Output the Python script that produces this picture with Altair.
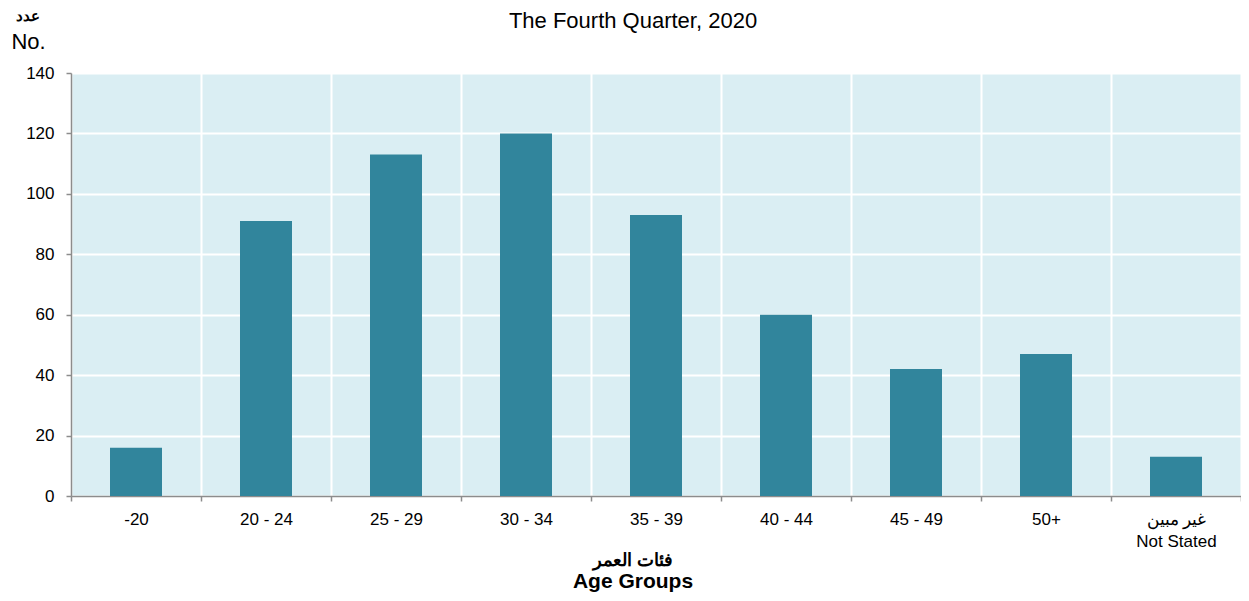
import altair as alt
import pandas as pd

# ---- data ----
categories = ["-20", "20 - 24", "25 - 29", "30 - 34", "35 - 39",
              "40 - 44", "45 - 49", "50+", "غير مبين|Not Stated"]
counts = [16, 91, 113, 120, 93, 60, 42, 47, 13]
y_ticks = [0, 20, 40, 60, 80, 100, 120, 140]

title_text = "The Fourth Quarter, 2020"
y_title_ar = "عدد"
y_title_en = "No."
x_title_ar = "فئات العمر"
x_title_en = "Age Groups"

FONT = "Liberation Sans"
BAR = "#31859C"
BG = "#DAEEF3"
AXIS = "#8C8C8C"

df = pd.DataFrame({"age": categories, "count": counts})

bars = alt.Chart(df).mark_bar(color=BAR, width={"band": 0.4}).encode(
    x=alt.X(
        "age:N",
        sort=categories,
        scale=alt.Scale(paddingInner=0, paddingOuter=0),
        axis=alt.Axis(
            title=None,
            labelAngle=0,
            tickBand="extent",
            grid=True,
            gridColor="white",
            gridWidth=2,
            domainColor=AXIS,
            domainWidth=1.5,
            tickColor=AXIS,
            tickWidth=1.5,
            tickSize=5,
            labelFont=FONT,
            labelFontSize=17,
            labelColor="black",
            labelPadding=10,
            labelLineHeight=22,
            labelExpr="split(datum.label, '|')",
        ),
    ),
    y=alt.Y(
        "count:Q",
        scale=alt.Scale(domain=[0, 140], nice=False),
        axis=alt.Axis(
            title=None,
            values=y_ticks,
            grid=True,
            gridColor="white",
            gridWidth=2,
            domainColor=AXIS,
            domainWidth=1.5,
            tickColor=AXIS,
            tickWidth=1.5,
            tickSize=5,
            labelFont=FONT,
            labelFontSize=17,
            labelColor="black",
            labelPadding=12,
        ),
    ),
)


def label(text, x, y, size, bold=False, align="center"):
    return alt.Chart(pd.DataFrame({"t": [text]})).mark_text(
        font=FONT,
        fontSize=size,
        fontWeight="bold" if bold else "normal",
        color="black",
        align=align,
        baseline="alphabetic",
    ).encode(text="t:N", x=alt.value(x), y=alt.value(y))


chart = alt.layer(
    bars,
    label(title_text, 562, -45, 22),
    label(y_title_ar, -43, -52, 15, bold=True),
    label(y_title_en, -42.5, -24, 22),
    label(x_title_ar, 562, 493, 18, bold=True),
    label(x_title_en, 562, 515, 21, bold=True),
).properties(
    width=1170,
    height=423,
    autosize="none",
    padding={"left": 63, "top": 65, "right": 0, "bottom": 97},
).configure_view(fill=BG, stroke=None)

chart.save("out.html", embed_options={"renderer": "svg", "actions": False})
